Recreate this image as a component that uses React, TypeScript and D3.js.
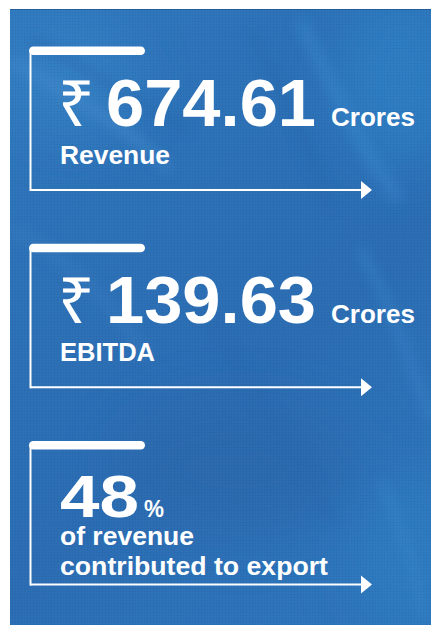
import React from "react";
import * as d3 from "d3";

const prefixes = ["₹", "₹", ""];
const values = ["674.61", "139.63", "48"];
const units = ["Crores", "Crores", "%"];
const labels = [["Revenue"], ["EBITDA"], ["of revenue", "contributed to export"]];

const W = 431;
const H = 625;

export default function App() {
  const blockTop = d3.scaleLinear().domain([0, 2]).range([46.5, 441]);
  const font = "'Liberation Sans', Arial, sans-serif";
  const valueWidth = (v: string) => (v.length > 3 ? 206 : 76);
  const labelWidth: Record<string, number> = {
    Revenue: 108,
    EBITDA: 93,
    "of revenue": 132,
    "contributed to export": 266,
  };

  const streaks = [
    { d: "M10,60 C60,90 120,120 170,170", c: "#4a90d0", w: 10 },
    { d: "M30,40 C80,60 140,110 190,130", c: "#2564a8", w: 8 },
    { d: "M300,20 C330,80 360,150 400,200", c: "#3a88cc", w: 14 },
    { d: "M360,250 C390,300 410,360 431,420", c: "#3a86ca", w: 10 },
    { d: "M200,300 C240,380 300,450 330,520", c: "#2868ad", w: 12 },
    { d: "M380,480 C400,520 415,570 425,620", c: "#3a88cc", w: 8 },
    { d: "M10,230 C60,250 110,300 150,360", c: "#377bbf", w: 14 },
    { d: "M250,30 C280,90 310,140 330,210", c: "#2565aa", w: 8 },
  ];

  return (
    <svg
      width={W}
      height={H}
      style={{ position: "absolute", left: 0, top: 0, display: "block", background: "#fff" }}
    >
      <defs>
        <clipPath id="panel">
          <rect x={10} y={9} width={W - 10} height={H - 9} />
        </clipPath>
        <linearGradient id="bg" x1="0" y1="0" x2="0.6" y2="1">
          <stop offset="0%" stopColor="#3079be" />
          <stop offset="35%" stopColor="#2c70b6" />
          <stop offset="70%" stopColor="#2b6cb2" />
          <stop offset="100%" stopColor="#2d73b9" />
        </linearGradient>
        <pattern id="canvas" width="3" height="3" patternUnits="userSpaceOnUse">
          <rect x="0" y="0" width="1" height="1" fill="#0a3a70" opacity="0.1" />
          <rect x="1.5" y="1.5" width="1" height="1" fill="#fff" opacity="0.04" />
        </pattern>
        <filter id="blur" x="-20%" y="-20%" width="140%" height="140%">
          <feGaussianBlur stdDeviation="6" />
        </filter>
        <filter id="blur2" x="-50%" y="-50%" width="200%" height="200%">
          <feGaussianBlur stdDeviation="30" />
        </filter>
      </defs>
      <g clipPath="url(#panel)">
        <rect x={10} y={9} width={W - 10} height={H - 9} fill="url(#bg)" />
        <g filter="url(#blur2)" opacity={0.7}>
          <ellipse cx={400} cy={80} rx={60} ry={90} fill="#2f82c8" />
          <ellipse cx={70} cy={80} rx={60} ry={50} fill="#3784c6" />
          <ellipse cx={410} cy={560} rx={50} ry={80} fill="#2f7ec3" />
          <ellipse cx={240} cy={470} rx={120} ry={60} fill="#2966aa" />
        </g>
        <g filter="url(#blur)" opacity={0.45}>
          {streaks.map((s, i) => (
            <path key={i} d={s.d} fill="none" stroke={s.c} strokeWidth={s.w} />
          ))}
        </g>
        <rect x={10} y={9} width={W - 10} height={H - 9} fill="url(#canvas)" />
        <line x1={10} x2={W} y1={9.5} y2={9.5} stroke="#1d4f86" strokeWidth={1} opacity={0.6} />
      </g>

      {values.map((v, i) => {
        const top = blockTop(i);
        const lineY = top + 143.5;
        const isMoney = prefixes[i] !== "";
        const baseline = isMoney ? top + 79 : top + 76;
        return (
          <g key={i}>
            <rect x={29} y={top} width={116} height={8.5} rx={4.25} fill="#fff" />
            <line x1={30.5} x2={30.5} y1={top + 4} y2={lineY + 1} stroke="#fff" strokeWidth={2} />
            <line x1={30} x2={363} y1={lineY} y2={lineY} stroke="#fff" strokeWidth={2} />
            <polygon points={`361,${lineY - 9} 372,${lineY} 361,${lineY + 9}`} fill="#fff" />
            {isMoney && (
              <text
                x={58}
                y={baseline}
                fill="#fff"
                fontFamily="'Noto Sans', 'DejaVu Sans', sans-serif"
                fontWeight={400}
                fontSize={64}
              >
                {prefixes[i]}
              </text>
            )}
            <text
              x={isMoney ? 106 : 60}
              y={baseline}
              fill="#fff"
              fontFamily={font}
              fontWeight={700}
              fontSize={isMoney ? 66 : 59}
              textLength={valueWidth(v) + (isMoney ? 4 : 3)}
              lengthAdjust="spacingAndGlyphs"
            >
              {v}
            </text>
            <text
              x={isMoney ? 331 : 144}
              y={baseline}
              fill="#fff"
              fontFamily={font}
              fontWeight={700}
              fontSize={isMoney ? 25 : 24}
              textLength={isMoney ? 84 : 20}
              lengthAdjust="spacingAndGlyphs"
            >
              {units[i]}
            </text>
            {labels[i].map((l, j) => (
              <text
                key={j}
                x={60}
                y={isMoney ? baseline + 38 : baseline + 28 + j * 30}
                fill="#fff"
                fontFamily={font}
                fontWeight={700}
                fontSize={25}
                textLength={labelWidth[l] + 2}
                lengthAdjust="spacingAndGlyphs"
              >
                {l}
              </text>
            ))}
          </g>
        );
      })}
    </svg>
  );
}
